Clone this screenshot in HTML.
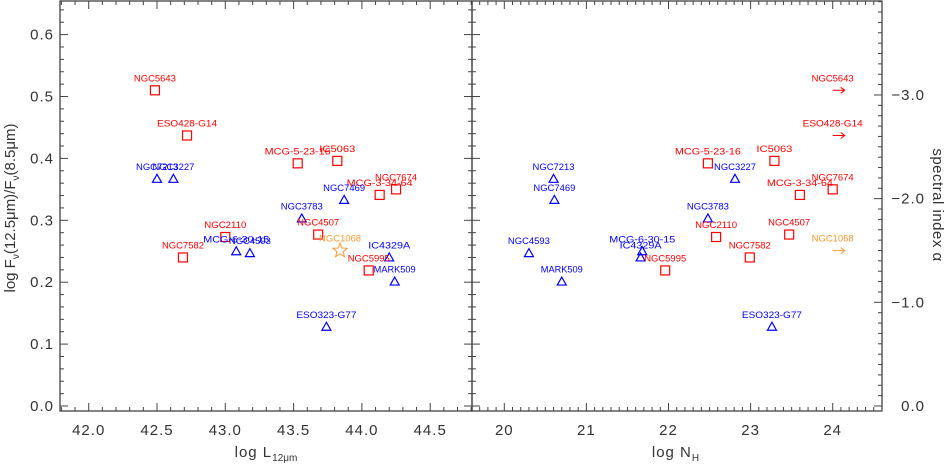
<!DOCTYPE html>
<html><head><meta charset="utf-8"><style>
html,body{margin:0;padding:0;background:#fff;}
svg{display:block;}
text{font-family:"Liberation Sans",sans-serif;}
</style></head><body>
<svg id="chart" width="946" height="464" viewBox="0 0 946 464" xmlns="http://www.w3.org/2000/svg">
<g id="frames"></g>
<g id="ticks"></g>
<g id="marks"></g>
<g id="labels"></g>
<text x="266" y="457" text-anchor="middle" font-size="15" letter-spacing="1" fill="#333">log L<tspan font-size="10" dy="4" letter-spacing="0">12μm</tspan></text>
<text x="676" y="457" text-anchor="middle" font-size="15" letter-spacing="1" fill="#333">log N<tspan font-size="10" dy="4">H</tspan></text>
<text transform="translate(15,208) rotate(-90)" text-anchor="middle" font-size="15" fill="#333">log F<tspan font-size="10" dy="4">ν</tspan><tspan dy="-4">(12.5μm)/F</tspan><tspan font-size="10" dy="4">ν</tspan><tspan dy="-4">(8.5μm)</tspan></text>
<text transform="translate(933,205) rotate(90)" text-anchor="middle" font-size="15" letter-spacing="0.5" fill="#333">spectral index α</text>
</svg>
<script>
const names = ["NGC5643","ESO428-G14","MCG-5-23-16","IC5063","NGC7674","MCG-3-34-64","NGC4507","NGC2110","NGC7582","NGC5995","NGC7213","NGC3227","NGC7469","NGC3783","MCG-6-30-15","NGC4593","IC4329A","MARK509","ESO323-G77","NGC1068"];
const types = ["sq","sq","sq","sq","sq","sq","sq","sq","sq","sq","tri","tri","tri","tri","tri","tri","tri","tri","tri","star"];
const ratioValues = [0.510,0.437,0.392,0.396,0.350,0.341,0.277,0.273,0.240,0.219,0.367,0.367,0.333,0.303,0.250,0.247,0.240,0.201,0.128,0.251];
const lumValues = [42.485,42.72,43.53,43.82,44.25,44.13,43.68,43.0,42.69,44.05,42.5,42.62,43.87,43.56,43.08,43.18,44.2,44.24,43.74,43.84];
const nhValues = [24.0,24.0,22.48,23.29,24.0,23.6,23.47,22.58,22.99,21.96,20.6,22.81,20.61,22.48,21.68,20.3,21.66,20.7,23.26,24.0];
const nhLowerLimit = [true,true,false,false,false,false,false,false,false,false,false,false,false,false,false,false,false,false,false,true];
const yTicks = ["0.0","0.1","0.2","0.3","0.4","0.5","0.6"];
const lumTicks = ["42.0","42.5","43.0","43.5","44.0","44.5"];
const nhTicks = ["20","21","22","23","24"];
const alphaTicks = ["0.0","−1.0","−2.0","−3.0"];

const NS="http://www.w3.org/2000/svg";
const colors={sq:"#ff0000",tri:"#0000ff",star:"#ff9933"};
const TOP=1,BOT=411,L1=60,R1=472,L2=472,R2=882;
const yS=v=>406-v*619;
const xL=v=>88.7+(v-42)*136.6;
const xN=v=>504.3+(v-20)*82.1;
const alphaToY=a=>yS(-a*Math.log10(12.5/8.5));
function mk(tag,attrs,parent){const e=document.createElementNS(NS,tag);for(const k in attrs)e.setAttribute(k,attrs[k]);parent.appendChild(e);return e;}
const frames=document.getElementById('frames'),ticks=document.getElementById('ticks'),marks=document.getElementById('marks'),labels=document.getElementById('labels');
let f1=mk('rect',{x:L1,y:TOP,width:R1-L1,height:BOT-TOP,fill:'none',stroke:'#333','stroke-width':1.2},frames);


let f2=mk('rect',{x:L2,y:TOP,width:R2-L2,height:BOT-TOP,fill:'none',stroke:'#333','stroke-width':1.2},frames);


function tick(x1,y1,x2,y2){const t=mk('line',{x1,y1,x2,y2,stroke:'#444','stroke-width':1},ticks);}
for(let i=0;i<=33;i++){const v=i*0.02;const y=yS(v);if(y<TOP)continue;const major=i%5===0;const len=major?8:4;
 tick(L1,y,L1+len,y);tick(R1-len,y,R1,y);tick(L2,y,L2+len,y);}
yTicks.forEach(s=>{const t=mk('text',{x:54,y:yS(+s)+5,'text-anchor':'end','font-size':15,'letter-spacing':1,fill:'#333'},labels);t.textContent=s;});
for(let i=0;i<=30;i++){const v=41.8+i*0.1;const x=xL(v);if(x<L1||x>R1)continue;const major=Math.abs((v*10)%5)<0.01||Math.abs((v*10)%5-5)<0.01;const len=major?8:4;tick(x,BOT,x,BOT-len);tick(x,TOP,x,TOP+len);}
lumTicks.forEach(s=>{const t=mk('text',{x:xL(+s),y:435,'text-anchor':'middle','font-size':15,'letter-spacing':1,fill:'#333'},labels);t.textContent=s;});
for(let i=0;i<=50;i++){const v=19.6+i*0.1;const x=xN(v);if(x<L2||x>R2)continue;const major=Math.abs(v-Math.round(v))<0.01;const len=major?8:4;tick(x,BOT,x,BOT-len);tick(x,TOP,x,TOP+len);}
nhTicks.forEach(s=>{const t=mk('text',{x:xN(+s),y:435,'text-anchor':'middle','font-size':15,'letter-spacing':1,fill:'#333'},labels);t.textContent=s;});
for(let i=0;i<=39;i++){const a=-i*0.1;const y=alphaToY(a);if(y<TOP)continue;const major=i%10===0;const len=major?8:4;tick(R2-len,y,R2,y);}
alphaTicks.forEach(s=>{const a=parseFloat(s.replace('−','-'));const t=mk('text',{x:925,y:alphaToY(a)+5,'text-anchor':'end','font-size':15,'letter-spacing':1,fill:'#333'},labels);t.textContent=s;});
function marker(type,x,y){const c=colors[type];let e;
 if(type==='sq')e=mk('rect',{x:x-4.5,y:y-4.5,width:9,height:9,fill:'none',stroke:c,'stroke-width':1.2},marks);
 else if(type==='tri')e=mk('polygon',{points:`${x},${y-4.5} ${x-4.5},${y+3.5} ${x+4.5},${y+3.5}`,fill:'none',stroke:c,'stroke-width':1.2},marks);
 else{let p=[];for(let k=0;k<10;k++){const r=k%2?3.2:7.5;const an=-Math.PI/2+k*Math.PI/5;p.push((x+r*Math.cos(an)).toFixed(1)+','+(y+r*Math.sin(an)).toFixed(1));}e=mk('polygon',{points:p.join(' '),fill:'none',stroke:c,'stroke-width':1},marks);}
 return e;}
function label(s,x,y,c){const t=mk('text',{x,y,'text-anchor':'middle','font-size':9,fill:c,textLength:s.length*6,lengthAdjust:'spacingAndGlyphs'},labels);t.textContent=s;return t;}
names.forEach((n,i)=>{const c=colors[types[i]];
 const x1=xL(lumValues[i]),y=yS(ratioValues[i]);
 const m1=marker(types[i],x1,y);
 
 
 const l1=label(n,x1,y-9,c);
 
 
 const x2=xN(nhValues[i]);
 let m2;
 if(nhLowerLimit[i]){m2=mk('path',{d:`M${x2},${y} h12 M${x2+8},${y-3} L${x2+12},${y} L${x2+8},${y+3}`,fill:'none',stroke:c,'stroke-width':1},marks);}
 else{m2=marker(types[i],x2,y);}
 const l2=label(n,x2,y-9,c);
 
 
 
 
});
</script>
</body></html>
